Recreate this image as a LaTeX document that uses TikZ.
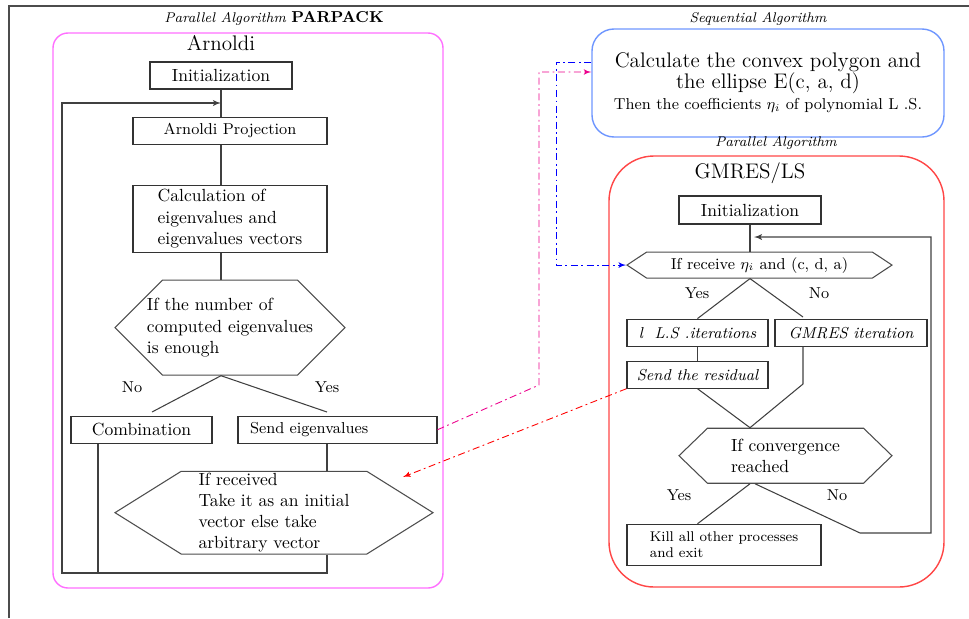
\documentclass[tikz,border=0pt]{standalone}
\usepackage{tikz}
\usetikzlibrary{shapes, arrows, positioning, calc}
\definecolor{panelpink}{RGB}{255,110,255}
\definecolor{panelred}{RGB}{255,70,70}
\definecolor{seqblue}{RGB}{110,150,255}
\tikzstyle{process} = [rectangle, draw=black!80, line width=0.6pt, minimum height=5.4mm, align=left, inner sep=2pt]
\tikzstyle{decision} = [signal, signal to=west and east, draw=black!70, line width=0.6pt, align=left, inner sep=1pt]
\tikzstyle{panelbox} = [rectangle, line width=0.8pt]
\tikzstyle{heading} = [font=\footnotesize\itshape]
\tikzstyle{branch} = [font=\small]
\tikzstyle{flow} = [draw, black!75, line width=0.6pt]
\tikzstyle{line} = [draw, black!75, line width=0.6pt, -latex']
\tikzstyle{msg} = [draw, line width=0.5pt, dash pattern=on 4pt off 2pt on 1pt off 2pt, -latex']

\begin{document}
\begin{tikzpicture}[x=0.2mm, y=-0.2mm]
            \useasboundingbox (0,0) rectangle (969,618);
            \draw [black!70, line width=0.6pt] (9,618) -- (9,6) -- (969,6);

            % Draw nodes
            % Left panel
            \node (arnoldi) [panelbox, draw=panelpink, minimum width=78mm, minimum height=111mm, rounded corners=3mm] at (248,310.5) {};
            \node (partitle) at (274,18) {\footnotesize\itshape Parallel Algorithm \small\upshape\bfseries PARPACK};
            \node (arntitle) at (221,43) {\large Arnoldi};
            \node (init1) [process, minimum width=28.4mm] at (221,75.5) {Initialization};
            \node (proj) [process, minimum width=38.8mm, below=5.4mm of init1, xshift=1.8mm, font=\small] {Arnoldi Projection};
            \node (calc) [process, minimum width=38.8mm, minimum height=13.4mm, below=8mm of proj] {Calculation of\\eigenvalues and\\eigenvalues vectors};
            \node (hex1) [decision, minimum width=46mm, minimum height=19mm, inner xsep=-4mm, signal pointer angle=90, below=5.4mm of calc] {If the number of\\computed eigenvalues\\is enough};
            \node (comb) [process, minimum width=28.2mm, below=8mm of hex1, xshift=-17.7mm] {Combination};
            \node (send) [process, text width=35mm, inner xsep=2.4mm, below=8mm of hex1, xshift=21.5mm, font=\small] {Send eigenvalues};
            \node (hex2) [decision, minimum width=63.6mm, minimum height=16mm, signal pointer angle=64, below=5.4mm of send, xshift=-12.7mm] {If received\\Take it as an initial\\vector else take\\arbitrary vector};
            \node (noL) [branch] at (132,387) {No};
            \node (yesL) [branch] at (327,387) {Yes};

            % Right side
            \node (seqtitle) [heading] at (758,19) {Sequential Algorithm};
            \node (seq) [rectangle, draw=seqblue, line width=0.8pt, rounded corners=4.4mm, minimum width=70.4mm, minimum height=21.6mm, align=center] at (768,83) {\large Calculate the convex polygon and\\\large the ellipse E(c, a, d)\\\small Then the coefficients $\eta_i$ of polynomial L .S.};
            \node (partitle2) [heading] at (776,143) {Parallel Algorithm};
            \node (gmres) [panelbox, draw=panelred, minimum width=67mm, minimum height=86.2mm, rounded corners=9mm] at (776.5,371.5) {};
            \node (gmtitle) at (750,173) {\large GMRES/LS};
            \node (init2) [process, minimum width=28.4mm, minimum height=5.6mm] at (750,210) {Initialization};
            \node (hex3) [decision, minimum width=53mm, minimum height=5.2mm, signal pointer angle=67, below=5.4mm of init2, xshift=1.9mm, font=\small] {If receive $\eta_i$ and (c, d, a)};
            \node (ils) [process, minimum width=28.2mm, below=8mm of hex3, xshift=-12.4mm, font=\small\itshape] {l \ L.S .iterations};
            \node (gmresit) [process, minimum width=30.4mm, below=8mm of hex3, xshift=18.3mm, font=\small\itshape] {GMRES iteration};
            \node (resid) [process, minimum width=28.2mm, below=2.8mm of ils, font=\small\itshape] {Send the residual};
            \node (hex4) [decision, minimum width=42.6mm, minimum height=11mm, signal pointer angle=88, below=7.8mm of resid, xshift=17.6mm] {If convergence\\reached};
            \node (kill) [process, minimum width=38.8mm, minimum height=8.2mm, below=8mm of hex4, xshift=-12.3mm, font=\footnotesize] {Kill all other processes\\and exit};
            \node (yesR1) [branch] at (697,293) {Yes};
            \node (noR1) [branch] at (819,293) {No};
            \node (yesR2) [branch] at (679,495) {Yes};
            \node (noR2) [branch] at (837,495) {No};

            % Corner points
            \coordinate (forkNo) at (152,412);
            \coordinate (forkYes) at (327,412);
            \coordinate (combdown) at (98,573);
            \coordinate (backL) at (62,573);
            \coordinate (loopL) at (221,103);
            \coordinate (gmtop) at (803,317);
            \coordinate (gmbot) at (803,384);
            \coordinate (turnR) at (860,533);
            \coordinate (loopR) at (931,533);
            \coordinate (loopRtop) at (931,237);
            \coordinate (magup) at (539,385);
            \coordinate (magtop) at (539,72);
            \coordinate (bluel) at (556,62);
            \coordinate (redtip) at (403,477);

            % Draw lines
            % Left
            \path [flow] (init1.south) -- (init1.south |- proj.north);
            \path [flow] (init1.south |- proj.south) -- (init1.south |- calc.north);
            \path [flow] (init1.south |- calc.south) -- (init1.south |- hex1.north);
            \path [flow] (hex1.south -| init1.south) -- (forkNo);
            \path [flow] (hex1.south -| init1.south) -- (forkYes);
            \path [flow] (forkYes |- send.south) -- (forkYes |- hex2.north);
            \path [flow] (combdown |- comb.south) -- (combdown);
            \path [line] (forkYes |- hex2.south) -- (forkYes |- backL) -- (backL) -- (backL |- loopL) -- (loopL);

            % Right
            \path [flow] (init2.south) -- (init2.south |- hex3.north);
            \path [flow] (hex3.south -| init2.south) -- (ils.north);
            \path [flow] (hex3.south -| init2.south) -- (gmtop);
            \path [flow] (ils.south) -- (resid.north);
            \path [flow] (gmtop |- gmresit.south) -- (gmbot) -- (hex4.north -| init2.south);
            \path [flow] (resid.south) -- (hex4.north -| init2.south);
            \path [flow] (hex4.south -| init2.south) -- (kill.north -| ils.south);
            \path [line] ([xshift=1mm]hex4.south -| init2.south) -- (turnR) -- (loopR) -- (loopRtop) -- ([xshift=0.8mm]init2.south |- loopRtop);

            % Messages
            \path [msg, draw=magenta] (send.east) -- (magup) -- (magtop) -- (seq.west |- magtop);
            \path [msg, draw=blue] (seq.west |- bluel) -- (bluel) -- (bluel |- hex3.west) -- (hex3.west);
            \path [msg, draw=red] (resid.south west) -- (redtip);
\end{tikzpicture}
\end{document}
